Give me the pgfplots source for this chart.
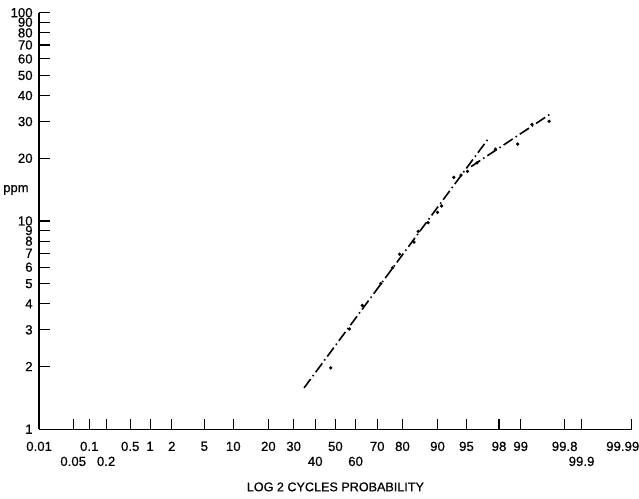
\documentclass[border=0pt]{standalone}
\usepackage{fontspec}
\setmainfont{Liberation Sans}[FakeBold=0.6]
\newfontfamily\scanfont{Liberation Sans}[FakeBold=0.6]
\usepackage{pgfplots}
\pgfplotsset{compat=1.18}
% x values are normal quantiles (probit) of the cumulative probability
\pgfplotstableread{
z      ppm
-0.058 1.97
0.175  3.03
0.338  3.93
0.569  5.00
0.717  5.96
0.805  6.92
0.987  7.91
1.040  8.91
1.163  9.81
1.282  11.0
1.332  11.8
1.486  16.2
1.577  16.6
1.658  17.3
1.777  19.0
2.009  22.1
2.288  23.4
2.467  29.1
2.683  30.1
}\datapts
\begin{document}
\begin{tikzpicture}[font=\scanfont\fontsize{13.2bp}{15bp}\selectfont]
\begin{axis}[
 scale only axis, width=592.7bp, height=416.6bp,
 xmin=-3.719, xmax=3.719, ymin=1, ymax=100, ymode=log,
 axis x line=bottom, axis y line=left,
 axis line style={-, line width=1.4bp},
 tick align=inside, major tick length=10.5bp, minor tick num=0,
 every tick/.style={black, line width=1.2bp},
 /pgf/number format/assume math mode=true,
 tick label style={font=\scanfont\fontsize{13.2bp}{15bp}\selectfont},
 xtick={-3.719,-3.090,-2.576,-2.326,-2.054,-1.645,-1.2816,-0.8416,-0.5244,0,0.5244,0.8416,1.2816,1.645,2.054,2.326,2.878,3.719},
 xticklabels={0.01,0.1,0.5,1,2,5,10,20,30,50,70,80,90,95,98,99,99.8,\makebox[0pt][r]{99.99\hspace{-7.6bp}}},
 extra x ticks={-3.291,-2.878,-0.2533,0.2533,3.090},
 extra x tick labels={0.05,0.2,40,60,99.9},
 extra x tick style={xticklabel style={yshift=-15bp}},
 xticklabel style={yshift=-9bp},
 ytick={1,2,3,4,5,6,7,8,9,10,20,30,40,50,60,70,80,90,100},
 yticklabels={1,2,3,4,5,6,7,8,9,10,20,30,40,50,60,70,80,90,100},
 yticklabel style={xshift=-3bp},
 xlabel={LOG 2 CYCLES PROBABILITY},
 every axis x label/.style={at={(rel axis cs:0.5,0)}, anchor=center, yshift=-57.7bp, font=\scanfont\fontsize{12.6bp}{14bp}\selectfont},
 ylabel={ppm},
 every axis y label/.style={at={(rel axis cs:0,0.5744)}, anchor=east, xshift=-7bp, font=\scanfont\fontsize{13bp}{14bp}\selectfont},
 clip=false,
]
\addplot[black, line width=1.6bp, dash pattern=on 11bp off 3.5bp on 1.5bp off 3.5bp] coordinates {(-0.393,1.58) (1.928,25.1)};
\addplot[black, line width=1.6bp, dash pattern=on 11bp off 3.5bp on 1.5bp off 3.5bp] coordinates {(1.703,18.24) (2.706,32.8)};
\addplot[only marks, mark=*, mark size=1.5bp, black] table[x=z, y=ppm] {\datapts};
\end{axis}
\path (current axis.south west) ++(-39bp,-69.7bp) rectangle ++(639bp,499bp);
\end{tikzpicture}
\end{document}
